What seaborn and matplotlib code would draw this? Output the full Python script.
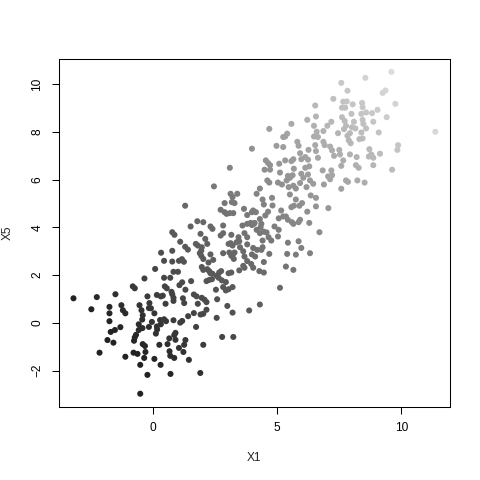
import matplotlib
matplotlib.use("Agg")
import matplotlib.pyplot as plt
import pandas as pd
import seaborn as sns
from matplotlib.colors import LinearSegmentedColormap

# valori: nuvola in basso a sinistra
x1_low = [-3.21, -2.27, -1.52, -2.49, -1.76, -1.76, -1.76, -2.16, -1.84, -1.60,
          -1.71, -1.54, -1.32, -1.28, -1.22, -1.12, -0.82, -0.74, -0.35, -0.23,
          -0.55, -0.47, -0.15, -0.17, -0.09, -0.42, -0.44, -0.58, -0.43, -0.58,
          -0.69, -0.77, -0.74, -0.05, 0.05, -0.17, 0.15, 0.11, 0.16, 0.31,
          0.28, -0.42, -0.33, -0.79, -0.63, -0.31, -1.12, -0.36, -0.52, -0.23,
          -0.52, 0.05, 0.30, 0.70, 0.25, 0.58, 0.66, 0.69, 0.85, 1.04,
          1.22, 0.65, 0.90, 0.85, 0.90, 1.30, 1.25, 1.44, 0.82, 0.44,
          0.52, 1.09, 1.17, 0.50, 0.77, 0.74, 0.55, 0.47, 0.15, 0.31,
          0.39, 0.82, 0.82, 1.20, 1.25, 1.06, 1.17, 1.30, 0.44, 0.69,
          0.82, 1.00, 1.41,
          1.73, 2.78, 3.23, 2.02, 1.90,
          1.29, 0.77, 0.86, 1.09, 1.29, 1.40, 0.32, 0.77, 0.44, 0.77,
          1.04, 1.16, 1.24, 0.08]
x5_low = [1.03, 1.08, 1.20, 0.57, 0.67, 0.40, 0.07, -1.25, -0.72, -0.83,
          -0.38, -0.30, -0.18, 0.74, 0.53, 0.40, 1.53, 1.45, 1.86, 1.11,
          0.74, 0.53, 0.83, 0.62, 0.61, 0.32, 0.14, -0.06, -0.22, -0.30,
          -0.50, -0.75, -0.61, 0.04, 0.40, -0.17, -0.15, -0.45, -0.28, -0.06,
          0.12, -0.89, -0.97, -1.25, -1.30, -1.22, -1.42, -1.47, -1.76, -2.18,
          -2.97, -1.51, -1.76, -2.14, -0.92, -0.89, -1.19, -1.38, -1.47, -1.05,
          -1.22, -0.65, -0.42, -0.51, -0.71, -0.72, -0.92, -1.55, 0.11, 0.15,
          0.07, 0.01, 0.08, 0.80, 1.20, 1.30, 1.45, 1.53, 1.17, 1.11,
          1.14, 0.92, 1.05, 1.03, 0.83, 1.58, 1.70, 1.39, 1.89, 1.89,
          2.14, 2.14, 0.28,
          -0.17, -0.59, -0.59, -0.92, -2.10,
          4.91, 3.80, 3.69, 3.40, 3.19, 3.07, 2.94, 3.02, 2.60, 2.57,
          2.60, 2.67, 2.56, 2.26]

# parte centrale
x1_mid = [3.12, 3.20, 3.39, 3.17, 3.28, 4.17, 4.41, 4.46, 4.79, 4.81,
          5.51, 5.75, 6.00, 6.35, 6.56, 6.56, 2.88, 2.72, 2.88, 2.96,
          3.09, 3.23, 3.66, 3.79, 3.98, 4.03, 4.14, 4.30, 4.36, 4.33,
          3.98, 4.06, 4.63, 4.52, 5.16, 5.24, 5.35, 5.06, 5.57, 5.67,
          5.89, 6.21, 5.43, 5.59, 5.65, 5.86, 5.92, 6.29, 6.70, 1.78,
          2.02, 1.51, 2.31, 2.39, 2.82, 3.15, 3.44, 3.60, 3.79, 3.93,
          4.09, 3.68, 3.79, 3.79, 4.17, 4.30, 4.46, 4.57, 4.65, 4.76,
          4.41, 4.89, 5.06, 5.03, 2.72, 2.82, 1.91, 1.72, 1.80, 2.10,
          2.18, 1.96, 1.94, 1.88, 1.94, 2.02, 2.31, 2.42, 2.23, 2.82,
          3.04, 3.12, 3.20, 3.36, 3.47, 3.07, 3.15, 3.23, 3.28, 3.25,
          3.50, 3.63, 3.68, 3.79, 4.03, 4.19, 4.36, 4.41, 3.98, 4.11,
          3.95, 4.68, 4.46, 3.63, 3.68, 4.03, 4.28, 4.46, 3.47, 3.15,
          3.04, 2.66, 2.74, 2.18, 2.26, 2.31, 2.39, 2.02, 1.96, 1.53,
          2.26, 2.37, 2.15, 2.56, 2.64, 2.77, 2.93, 2.53, 2.82, 2.93,
          3.04, 3.20, 5.43, 5.86, 5.97, 5.40, 5.75, 6.32, 5.35, 5.65,
          5.11, 1.64, 1.75, 1.96, 2.07, 2.15, 1.80, 2.58, 2.99, 3.20,
          3.87, 4.30, 1.64, 1.91, 2.02, 2.15, 2.56, 7.06]
x5_mid = [5.41, 5.27, 5.41, 5.06, 5.02, 5.41, 5.17, 4.96, 5.24, 4.92,
          5.38, 5.17, 5.02, 5.34, 5.24, 4.88, 5.02, 4.74, 4.64, 4.57,
          4.60, 4.60, 4.78, 4.52, 4.64, 4.71, 4.64, 4.35, 4.15, 4.01,
          4.10, 4.15, 4.66, 4.50, 4.71, 4.46, 4.46, 4.38, 4.85, 4.91,
          4.91, 4.66, 4.32, 4.22, 4.15, 4.22, 4.32, 4.19, 3.80, 4.26,
          4.22, 4.04, 4.04, 3.94, 4.08, 3.69, 3.59, 4.08, 4.15, 4.19,
          4.19, 3.76, 3.59, 3.29, 3.90, 3.76, 3.82, 3.79, 3.59, 3.45,
          3.45, 4.04, 3.90, 3.62, 3.66, 3.76, 3.73, 3.31, 3.24, 3.52,
          3.31, 3.17, 3.03, 2.92, 2.81, 2.68, 2.87, 2.64, 2.53, 2.92,
          3.31, 3.34, 3.24, 3.38, 3.42, 2.95, 2.81, 2.90, 2.95, 2.68,
          3.17, 3.00, 2.78, 2.59, 3.14, 3.06, 3.06, 3.17, 2.87, 2.78,
          2.47, 2.89, 2.55, 2.39, 2.31, 2.31, 2.17, 2.11, 2.20, 2.11,
          2.08, 2.11, 2.17, 2.25, 2.17, 2.08, 2.06, 2.22, 2.34, 1.75,
          1.80, 1.83, 1.75, 1.97, 1.89, 1.78, 1.71, 1.39, 1.50, 1.36,
          1.41, 1.50, 3.36, 3.42, 3.14, 2.89, 2.86, 2.92, 2.36, 2.22,
          1.47, 1.19, 1.11, 1.05, 0.97, 0.87, 0.80, 0.99, 0.71, 0.43,
          0.52, 0.77, 0.41, 0.35, 0.38, 0.55, 0.21, 4.81]

# parte alta a destra
x1_high = [6.53, 6.56, 6.21, 6.48, 6.59, 6.64, 6.48, 6.53, 6.56, 6.64,
           5.57, 4.68, 5.40, 5.32, 5.24, 5.81, 5.86, 4.97, 5.24, 3.98,
           6.26, 5.92, 6.13, 6.24, 5.97, 5.65, 5.57, 5.32, 5.08, 4.54,
           4.63, 4.71, 4.49, 4.71, 3.09, 6.29, 6.13, 5.67, 5.11, 5.43,
           5.51, 5.62, 5.38, 5.97, 6.05, 6.24, 6.32, 6.45, 5.03, 5.19,
           4.60, 4.68, 4.30, 2.45, 5.92, 6.18, 5.46, 5.65, 5.75,
           9.60, 8.55, 7.58, 7.83, 9.25, 9.36, 7.26, 7.66, 7.80, 8.04,
           7.99, 7.61, 7.74, 8.42, 8.44, 8.39, 8.58, 8.82, 9.04, 9.76,
           7.18, 7.02, 6.86, 7.61, 7.72, 7.77, 7.69, 7.45, 8.09, 8.01,
           8.15, 7.93, 7.83, 7.88, 7.96, 8.44, 8.47, 8.58, 8.39, 8.44,
           8.31, 8.87, 9.41, 9.09, 11.37, 9.87, 9.84, 7.50, 7.53, 7.29,
           7.66, 7.58, 6.86, 6.91, 7.13, 7.21, 7.93, 8.20, 8.17, 8.28,
           8.71, 8.79, 8.69, 8.87, 8.87, 9.14, 9.63, 6.83, 7.18, 7.05,
           7.13, 7.21, 6.88, 7.77, 7.85, 8.23, 8.52, 7.58]
x5_high = [9.11, 8.65, 8.51, 8.26, 8.01, 7.79, 7.81, 7.45, 7.20, 6.92,
           8.34, 8.13, 7.93, 7.81, 7.79, 7.59, 7.42, 7.42, 7.37, 7.30,
           7.25, 7.11, 6.95, 6.84, 6.86, 6.86, 6.78, 6.81, 6.67, 6.81,
           6.70, 6.61, 6.42, 6.42, 6.50, 6.56, 6.50, 6.46, 6.30, 6.16,
           6.08, 6.19, 5.97, 6.25, 6.08, 6.22, 5.97, 5.83, 5.88, 5.80,
           5.97, 5.88, 5.63, 5.72, 5.86, 5.69, 5.69, 5.75, 5.63,
           10.52, 10.27, 10.06, 9.73, 9.64, 9.74, 9.39, 9.27, 9.28, 9.16,
           8.76, 9.02, 9.02, 9.22, 9.04, 8.76, 8.82, 8.79, 8.93, 9.18,
           8.43, 8.26, 8.04, 8.62, 8.46, 8.26, 8.12, 7.95, 8.43, 8.20,
           8.15, 7.95, 7.84, 7.65, 7.53, 8.51, 8.34, 8.15, 7.98, 7.73,
           7.70, 8.43, 8.62, 7.98, 8.01, 7.45, 7.25, 7.25, 7.06, 7.00,
           6.81, 6.58, 7.59, 7.45, 7.39, 7.23, 7.06, 6.95, 6.61, 6.50,
           7.28, 7.06, 6.97, 6.92, 6.61, 7.09, 6.42, 6.39, 6.39, 6.14,
           6.02, 6.19, 5.80, 5.97, 5.91, 5.97, 5.88, 5.62]

df = pd.DataFrame({"X1": x1_low + x1_mid + x1_high,
                   "X5": x5_low + x5_mid + x5_high})
# sfumatura di grigio lungo la diagonale
df["shade"] = df["X1"] + df["X5"]

sns.set_style("ticks")
plt.rcParams["font.family"] = ["Liberation Sans", "DejaVu Sans"]

fig = plt.figure(figsize=(4.8, 4.8), dpi=100)
ax = fig.add_axes([59 / 480, 73.4 / 480, 390.8 / 480, 347.6 / 480])

greys = LinearSegmentedColormap.from_list("greys", ["#222222", "#dcdcdc"])
sns.scatterplot(data=df, x="X1", y="X5", hue="shade", palette=greys,
                hue_norm=(-2, 20), s=19, linewidth=0, legend=False, ax=ax)

ax.margins(0.04)
ax.set_xticks([0, 5, 10])
ax.set_yticks(range(-2, 11, 2))
ax.tick_params(direction="out", length=5.2, width=0.75, pad=6,
               labelsize=8.6, colors="black", bottom=True, left=True)
ax.tick_params(axis="y", labelrotation=90)
for lab in ax.get_yticklabels():
    lab.set_verticalalignment("center")

ax.set_xlabel("X1", fontsize=8.6, labelpad=13)
ax.set_ylabel("X5", fontsize=8.6, labelpad=13)
for sp in ax.spines.values():
    sp.set_visible(True)
    sp.set_color("black")
    sp.set_linewidth(0.75)

fig.savefig("out.png", dpi=100)
